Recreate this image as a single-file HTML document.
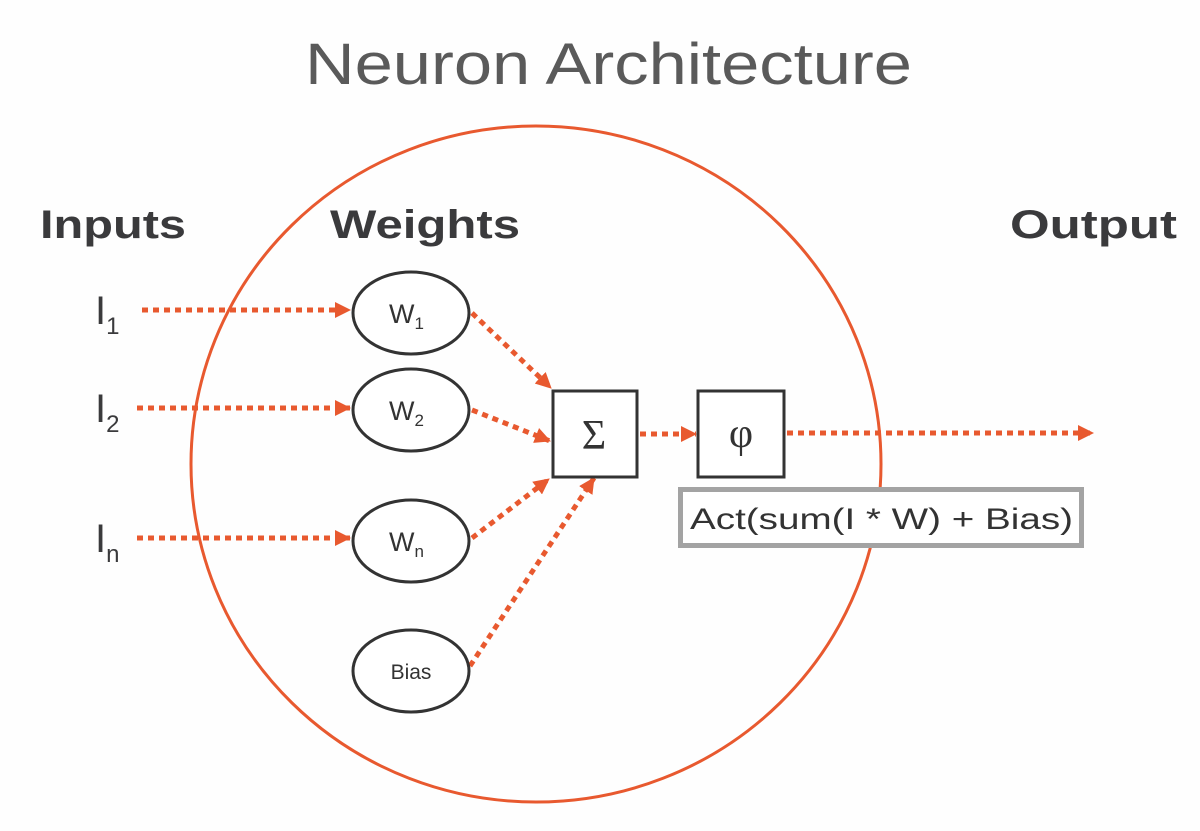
<!DOCTYPE html>
<html><head><meta charset="utf-8"><style>
html,body{margin:0;padding:0;background:#fff;}
svg{display:block;}
text{font-family:"Liberation Sans",sans-serif;}
</style></head><body>
<svg width="1200" height="831" viewBox="0 0 1200 831" xmlns="http://www.w3.org/2000/svg">
<defs>
<marker id="b" markerWidth="16" markerHeight="16" refX="15" refY="8" orient="auto" markerUnits="userSpaceOnUse" viewBox="0 0 16 16">
<path d="M0,0 L16,8 L0,16 z" fill="#e8592f"/></marker>
</defs>
<rect width="1200" height="831" fill="#fefefe"/>
<text x="305" y="84" font-size="58" fill="#5a5a5a" textLength="607" lengthAdjust="spacingAndGlyphs">Neuron Architecture</text>
<ellipse cx="536" cy="464" rx="345" ry="338" fill="none" stroke="#e8592f" stroke-width="3"/>
<g font-size="40" font-weight="bold" fill="#3a3a3c">
<text x="40" y="238" textLength="146" lengthAdjust="spacingAndGlyphs">Inputs</text>
<text x="330" y="238" textLength="190" lengthAdjust="spacingAndGlyphs">Weights</text>
<text x="1010" y="238" textLength="167" lengthAdjust="spacingAndGlyphs">Output</text>
</g>
<g font-size="40" fill="#3a3a3c">
<text x="95" y="324">I<tspan font-size="24" dy="10">1</tspan></text>
<text x="95" y="422">I<tspan font-size="24" dy="10">2</tspan></text>
<text x="95" y="552">I<tspan font-size="24" dy="10">n</tspan></text>
</g>
<g stroke="#e8592f" stroke-width="5" stroke-dasharray="6 5" fill="none">
<line x1="142" y1="310" x2="350" y2="310" marker-end="url(#b)"/>
<line x1="137" y1="408" x2="350" y2="408" marker-end="url(#b)"/>
<line x1="137" y1="538" x2="350" y2="538" marker-end="url(#b)"/>
<line x1="472" y1="313" x2="551" y2="388" marker-end="url(#b)"/>
<line x1="472" y1="410" x2="550" y2="441" marker-end="url(#b)"/>
<line x1="472" y1="538" x2="549" y2="479" marker-end="url(#b)"/>
<line x1="470" y1="666" x2="594" y2="478" marker-end="url(#b)"/>
<line x1="640" y1="434" x2="696" y2="434" marker-end="url(#b)"/>
<line x1="787" y1="433" x2="1093" y2="433" marker-end="url(#b)"/>
</g>
<g fill="#fff" stroke="#333" stroke-width="3">
<ellipse cx="411" cy="313" rx="58" ry="41"/>
<ellipse cx="411" cy="410" rx="58" ry="41"/>
<ellipse cx="411" cy="541" rx="58" ry="41"/>
<ellipse cx="411" cy="671" rx="58" ry="41"/>
<rect x="553" y="391" width="84" height="86"/>
<rect x="698" y="391" width="86" height="86"/>
</g>
<g font-size="27" fill="#333">
<text x="389" y="323">W<tspan font-size="17" dy="6">1</tspan></text>
<text x="389" y="420">W<tspan font-size="17" dy="6">2</tspan></text>
<text x="389" y="551">W<tspan font-size="17" dy="6">n</tspan></text>
<text x="411" y="679" text-anchor="middle" font-size="21">Bias</text>
</g>
<text x="594" y="449" font-size="42" text-anchor="middle" fill="#333" style="font-family:'Liberation Serif','DejaVu Serif',serif">Σ</text>
<text x="741" y="447" font-size="42" text-anchor="middle" fill="#333" style="font-family:'Liberation Serif','DejaVu Serif',serif">φ</text>
<rect x="680.5" y="489.5" width="401" height="56" fill="#fff" stroke="#a3a3a3" stroke-width="5"/>
<text x="690" y="529" font-size="30" fill="#333" textLength="383" lengthAdjust="spacingAndGlyphs">Act(sum(I * W) + Bias)</text>
</svg>
</body></html>
